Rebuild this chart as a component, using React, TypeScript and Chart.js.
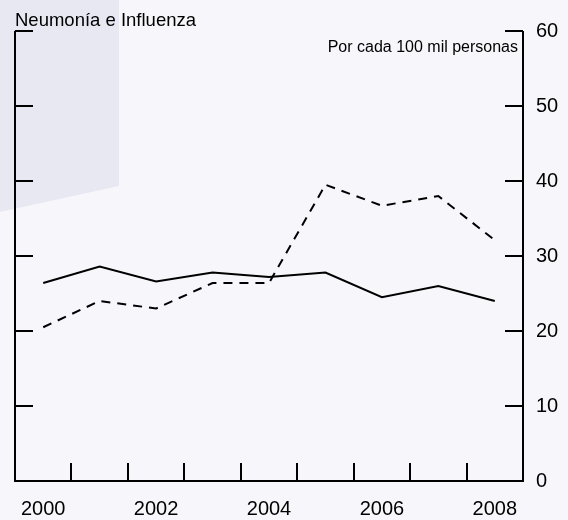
import React, { useEffect, useRef } from "react";
import { Chart, registerables } from "chart.js";

Chart.register(...registerables);

const years = ["2000", "2001", "2002", "2003", "2004", "2005", "2006", "2007", "2008"];
const solidSeries = [26.4, 28.6, 26.6, 27.8, 27.2, 27.8, 24.5, 26.0, 24.0];
const dashedSeries = [20.5, 24.0, 23.0, 26.4, 26.4, 39.5, 36.7, 38.0, 32.1];
const yTicks = [0, 10, 20, 30, 40, 50, 60];
const titleText = "Neumonía e Influenza";
const unitText = "Por cada 100 mil personas";

const BG = "#f7f7fb";
const SHADE = "#e8e8f3";
const FONT = "'Liberation Sans', Arial, sans-serif";

const decorPlugin = {
  id: "decor",
  beforeDraw(chart: any) {
    const ctx = chart.ctx;
    ctx.save();
    ctx.fillStyle = BG;
    ctx.fillRect(0, 0, chart.width, chart.height);
    ctx.fillStyle = SHADE;
    ctx.beginPath();
    ctx.moveTo(0, 0);
    ctx.lineTo(119, 0);
    ctx.lineTo(119, 186);
    ctx.lineTo(0, 212);
    ctx.closePath();
    ctx.fill();
    ctx.restore();
  },
  afterDraw(chart: any) {
    const ctx = chart.ctx;
    const x = chart.scales.x;
    const y = chart.scales.y;
    const { left, right, top, bottom } = chart.chartArea;
    ctx.save();
    ctx.strokeStyle = "#000";
    ctx.lineWidth = 2;
    ctx.lineJoin = "miter";
    ctx.lineCap = "butt";
    ctx.beginPath();
    ctx.moveTo(left, top);
    ctx.lineTo(left, bottom);
    ctx.lineTo(right, bottom);
    ctx.lineTo(right, top);
    ctx.stroke();
    // y ticks, inward on both sides
    ctx.beginPath();
    yTicks.forEach((v) => {
      const py = y.getPixelForValue(v);
      ctx.moveTo(left, py);
      ctx.lineTo(left + 18, py);
      ctx.moveTo(right - 18, py);
      ctx.lineTo(right, py);
    });
    ctx.stroke();
    // x ticks, between categories
    ctx.beginPath();
    for (let i = 0; i < years.length - 1; i++) {
      const px = Math.round((x.getPixelForValue(i) + x.getPixelForValue(i + 1)) / 2);
      ctx.moveTo(px, bottom);
      ctx.lineTo(px, bottom - 18);
    }
    ctx.stroke();
    // texts
    ctx.fillStyle = "#000";
    ctx.textBaseline = "alphabetic";
    ctx.font = `18.5px ${FONT}`;
    ctx.textAlign = "left";
    ctx.fillText(titleText, 15, 25.5);
    ctx.font = `16px ${FONT}`;
    ctx.textAlign = "right";
    ctx.fillText(unitText, 518, 51.5);
    ctx.restore();
  },
};

export default function App() {
  const ref = useRef<HTMLCanvasElement | null>(null);
  useEffect(() => {
    document.body.style.margin = "0";
    document.body.style.background = BG;
    const chart = new Chart(ref.current as HTMLCanvasElement, {
      type: "line",
      data: {
        labels: years,
        datasets: [
          {
            data: solidSeries,
            borderColor: "#000",
            borderWidth: 2,
            pointRadius: 0,
            tension: 0,
            fill: false,
          },
          {
            data: dashedSeries,
            borderColor: "#000",
            borderWidth: 2,
            borderDash: [9, 7],
            pointRadius: 0,
            tension: 0,
            fill: false,
          },
        ],
      },
      options: {
        animation: false,
        responsive: false,
        maintainAspectRatio: false,
        layout: { padding: { left: 15, top: 31, right: 0, bottom: 0 } },
        plugins: { legend: { display: false }, tooltip: { enabled: false }, title: { display: false } },
        scales: {
          x: {
            type: "category",
            offset: true,
            grid: { display: false, drawTicks: false, offset: true },
            border: { display: false },
            ticks: {
              autoSkip: false,
              maxRotation: 0,
              padding: 16,
              color: "#000",
              font: { family: FONT, size: 20 },
              callback: (_v: any, i: number) => (i % 2 === 0 ? years[i] : ""),
            },
            afterFit: (s: any) => {
              s.height = 39;
            },
          },
          y: {
            position: "right",
            min: 0,
            max: 60,
            grid: { display: false, drawTicks: false },
            border: { display: false },
            ticks: {
              stepSize: 10,
              padding: 13,
              color: "#000",
              font: { family: FONT, size: 20 },
            },
            afterFit: (s: any) => {
              s.width = 45;
            },
          },
        },
      },
      plugins: [decorPlugin],
    });
    return () => chart.destroy();
  }, []);
  return (
    <div style={{ position: "fixed", left: 0, top: 0, width: 568, height: 520, background: BG }}>
      <canvas ref={ref} width={568} height={520} style={{ width: 568, height: 520, display: "block" }} />
    </div>
  );
}
